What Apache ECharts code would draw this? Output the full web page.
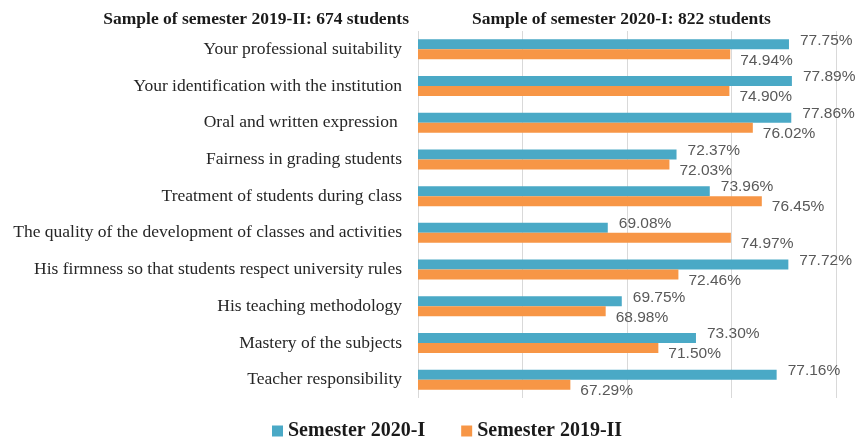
<!DOCTYPE html>
<html>
<head>
<meta charset="utf-8">
<script src="https://cdn.jsdelivr.net/npm/echarts@6/dist/echarts.min.js"></script>
<style>
html, body { margin: 0; padding: 0; background: #fff; }
#main { width: 859px; height: 443px; }
</style>
</head>
<body>
<div id="main"></div>
<script>
// 类别（从上到下）
var categories = [
	"Your professional suitability",
	"Your identification with the institution",
	"Oral and written expression ",
	"Fairness in grading students",
	"Treatment of students during class",
	"The quality of the development of classes and activities",
	"His firmness so that students respect university rules",
	"His teaching methodology",
	"Mastery of the subjects",
	"Teacher responsibility"
];

// 两个学期的数据
var sem2020I = [77.75, 77.89, 77.86, 72.37, 73.96, 69.08, 77.72, 69.75, 73.30, 77.16];
var sem2019II = [74.94, 74.90, 76.02, 72.03, 76.45, 74.97, 72.46, 68.98, 71.50, 67.29];

var seriesNames = ["Semester 2020-I", "Semester 2019-II"];
var titles = ["Sample of semester 2019-II: 674 students", "Sample of semester 2020-I: 822 students"];

var myChart = echarts.init(document.getElementById('main'));

var titleStyle = {
	fontFamily : 'Liberation Serif',
	fontWeight : 'bold',
	fontSize : 17.5,
	color : '#1a1a1a'
};

var option = {
	animation : false,
	title : [ {
		text : titles[0],
		right : 445,
		top : 5,
		textStyle : titleStyle
	}, {
		text : titles[1],
		left : 467,
		top : 5,
		textStyle : titleStyle
	} ],
	legend : {
		data : seriesNames,
		left : 267,
		top : 416,
		itemWidth : 11,
		itemHeight : 11,
		itemGap : 36,
		icon : 'rect',
		textStyle : {
			fontFamily : 'Liberation Serif',
			fontWeight : 'bold',
			fontSize : 20,
			color : '#1a1a1a'
		}
	},
	grid : {
		left : 418,
		right : 23,
		top : 31,
		height : 367
	},
	xAxis : {
		type : 'value',
		min : 60,
		max : 80,
		interval : 5,
		axisLabel : { show : false },
		axisLine : { show : false },
		axisTick : { show : false },
		splitLine : { lineStyle : { color : '#d9d9d9' } }
	},
	yAxis : {
		type : 'category',
		inverse : true,
		data : categories,
		axisLine : { show : false },
		axisTick : { show : false },
		axisLabel : {
			margin : 16,
			fontFamily : 'Liberation Serif',
			fontSize : 17.5,
			color : '#262626'
		}
	},
	series : [ {
		name : seriesNames[0],
		type : 'bar',
		data : sem2020I,
		barWidth : 10,
		barGap : '0%',
		itemStyle : { color : '#4aa9c6' },
		label : {
			show : true,
			position : 'right',
			distance : 11,
			offset : [ 0, -4 ],
			fontFamily : 'Liberation Sans',
			fontSize : 15.5,
			color : '#595959',
			formatter : function(p) {
				return p.value.toFixed(2) + '%';
			}
		}
	}, {
		name : seriesNames[1],
		type : 'bar',
		data : sem2019II,
		barWidth : 10,
		barGap : '0%',
		itemStyle : { color : '#f79646' },
		label : {
			show : true,
			position : 'right',
			distance : 10,
			offset : [ 0, 6 ],
			fontFamily : 'Liberation Sans',
			fontSize : 15.5,
			color : '#595959',
			formatter : function(p) {
				return p.value.toFixed(2) + '%';
			}
		}
	} ]
};

myChart.setOption(option);
</script>
</body>
</html>
